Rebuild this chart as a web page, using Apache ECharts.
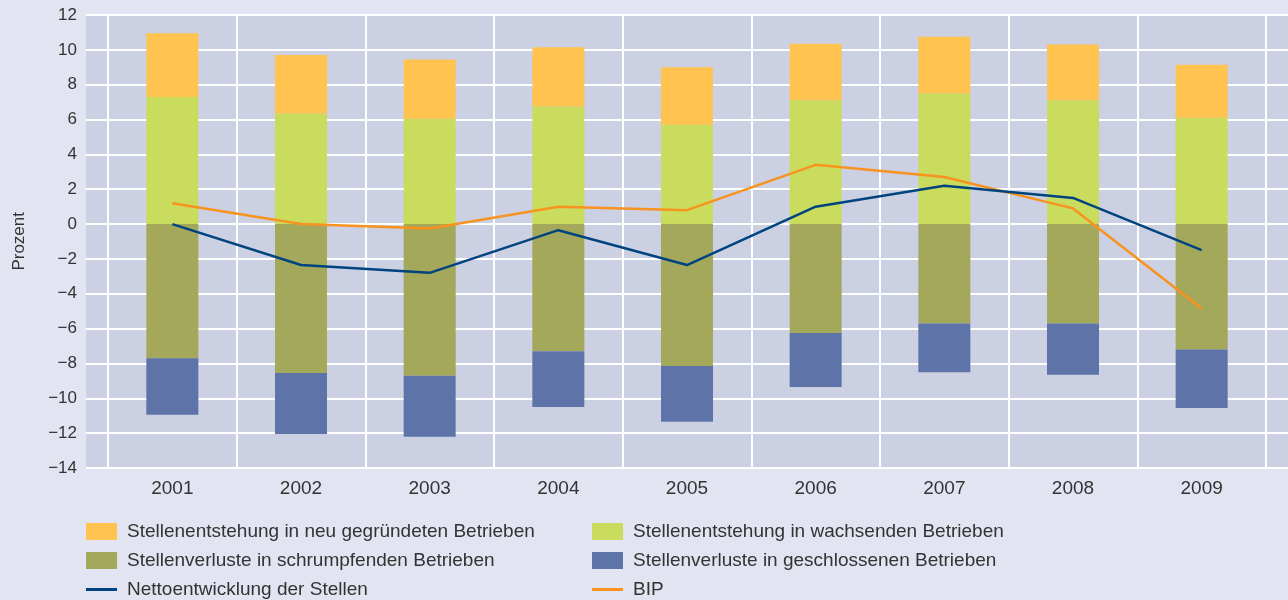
<!DOCTYPE html>
<html>
<head>
<meta charset="utf-8">
<script src="https://cdn.jsdelivr.net/npm/echarts@6/dist/echarts.min.js"></script>
<style>
html,body{margin:0;padding:0;background:#E2E5F1;}
#chart{width:1288px;height:600px;}
</style>
</head>
<body>
<div id="chart"></div>
<script>
// ---- data ----
var years = ['2001','2002','2003','2004','2005','2006','2007','2008','2009'];
var newFirms      = [3.65, 3.35, 3.4, 3.4, 3.3, 3.25, 3.25, 3.2, 3.05];     // Stellenentstehung in neu gegründeten Betrieben
var growingFirms  = [7.3, 6.35, 6.05, 6.75, 5.7, 7.1, 7.5, 7.1, 6.1];      // Stellenentstehung in wachsenden Betrieben
var shrinkingFirms= [-7.7, -8.55, -8.7, -7.3, -8.15, -6.25, -5.7, -5.7, -7.2]; // Stellenverluste in schrumpfenden Betrieben
var closedFirms   = [-3.25, -3.5, -3.5, -3.2, -3.2, -3.1, -2.8, -2.95, -3.35]; // Stellenverluste in geschlossenen Betrieben
var netJobs       = [0.0, -2.35, -2.8, -0.35, -2.35, 1.0, 2.2, 1.5, -1.5];  // Nettoentwicklung der Stellen
var gdp           = [1.2, 0.0, -0.25, 1.0, 0.8, 3.4, 2.7, 0.9, -4.85];     // BIP
var yMin = -14, yMax = 12, yStep = 2;

var names = {
  nw: 'Stellenentstehung in neu gegründeten Betrieben',
  gr: 'Stellenentstehung in wachsenden Betrieben',
  sh: 'Stellenverluste in schrumpfenden Betrieben',
  cl: 'Stellenverluste in geschlossenen Betrieben',
  net: 'Nettoentwicklung der Stellen',
  gdp: 'BIP'
};

var FONT = '"Liberation Sans", Arial, sans-serif';
var TXT = '#333333';
var LINE_ICON = 'path://M0,0 L31,0 L31,3 L0,3 Z';
var chart = echarts.init(document.getElementById('chart'));
var barW = 52;
var legendBase = {
  orient: 'vertical', top: 522, padding: 0, itemWidth: 31, itemHeight: 17, itemGap: 10,
  height: 120, symbolKeepAspect: true,
  textStyle: {fontSize: 19, lineHeight: 17, color: TXT, fontFamily: FONT, padding: [0, 0, 0, 5]}
};
chart.setOption({
  backgroundColor: '#E2E5F1',
  animation: false,
  textStyle: {fontFamily: FONT, color: TXT},
  grid: [
    {left: 86, right: 0, top: 15, bottom: 132, show: true, backgroundColor: '#CBD0E3', borderWidth: 0},
    {left: 108, right: 22, top: 15, bottom: 132}
  ],
  xAxis: [
    {gridIndex: 0, type: 'value', min: 0, max: 1, show: false},
    {gridIndex: 1, type: 'category', data: years, boundaryGap: true,
     axisLine: {show: false}, axisTick: {show: false},
     splitLine: {show: true, lineStyle: {color: '#ffffff', width: 2}},
     axisLabel: {fontSize: 19, color: TXT, margin: 11, fontFamily: FONT}}
  ],
  yAxis: [
    {gridIndex: 0, type: 'value', min: yMin, max: yMax, interval: yStep,
     axisLine: {show: false}, axisTick: {show: false},
     splitLine: {show: true, lineStyle: {color: '#ffffff', width: 2}},
     axisLabel: {fontSize: 17, color: TXT, margin: 9, fontFamily: FONT,
       formatter: function (v) { return String(v).replace('-', '\u2212'); }}},
    {gridIndex: 1, type: 'value', min: yMin, max: yMax, interval: yStep,
     axisLine: {show: false}, axisTick: {show: false}, axisLabel: {show: false},
     splitLine: {show: false}}
  ],
  legend: [
    Object.assign({}, legendBase, {left: 86,
      data: [{name: names.nw, icon: 'rect'}, {name: names.sh, icon: 'rect'}, {name: names.net, icon: LINE_ICON}]}),
    Object.assign({}, legendBase, {left: 592,
      data: [{name: names.gr, icon: 'rect'}, {name: names.cl, icon: 'rect'}, {name: names.gdp, icon: LINE_ICON}]})
  ],
  graphic: [
    {type: 'text', left: 11, top: 212, rotation: Math.PI / 2,
     style: {text: 'Prozent', fontSize: 17, fill: TXT, fontFamily: FONT}}
  ],
  series: [
    {name: names.gr, type: 'bar', xAxisIndex: 1, yAxisIndex: 1, stack: 'a', barWidth: barW,
     itemStyle: {color: '#C9DC5E'}, data: growingFirms},
    {name: names.nw, type: 'bar', xAxisIndex: 1, yAxisIndex: 1, stack: 'a', barWidth: barW,
     itemStyle: {color: '#FFC34F'}, data: newFirms},
    {name: names.sh, type: 'bar', xAxisIndex: 1, yAxisIndex: 1, stack: 'a', barWidth: barW,
     itemStyle: {color: '#A4A85A'}, data: shrinkingFirms},
    {name: names.cl, type: 'bar', xAxisIndex: 1, yAxisIndex: 1, stack: 'a', barWidth: barW,
     itemStyle: {color: '#5E74A8'}, data: closedFirms},
    {name: names.net, type: 'line', xAxisIndex: 1, yAxisIndex: 1, symbol: 'none',
     lineStyle: {color: '#00447F', width: 2.5}, itemStyle: {color: '#00447F'}, data: netJobs, z: 5},
    {name: names.gdp, type: 'line', xAxisIndex: 1, yAxisIndex: 1, symbol: 'none',
     lineStyle: {color: '#F7931E', width: 2.5}, itemStyle: {color: '#F7931E'}, data: gdp, z: 4}
  ]
});
</script>
</body>
</html>
